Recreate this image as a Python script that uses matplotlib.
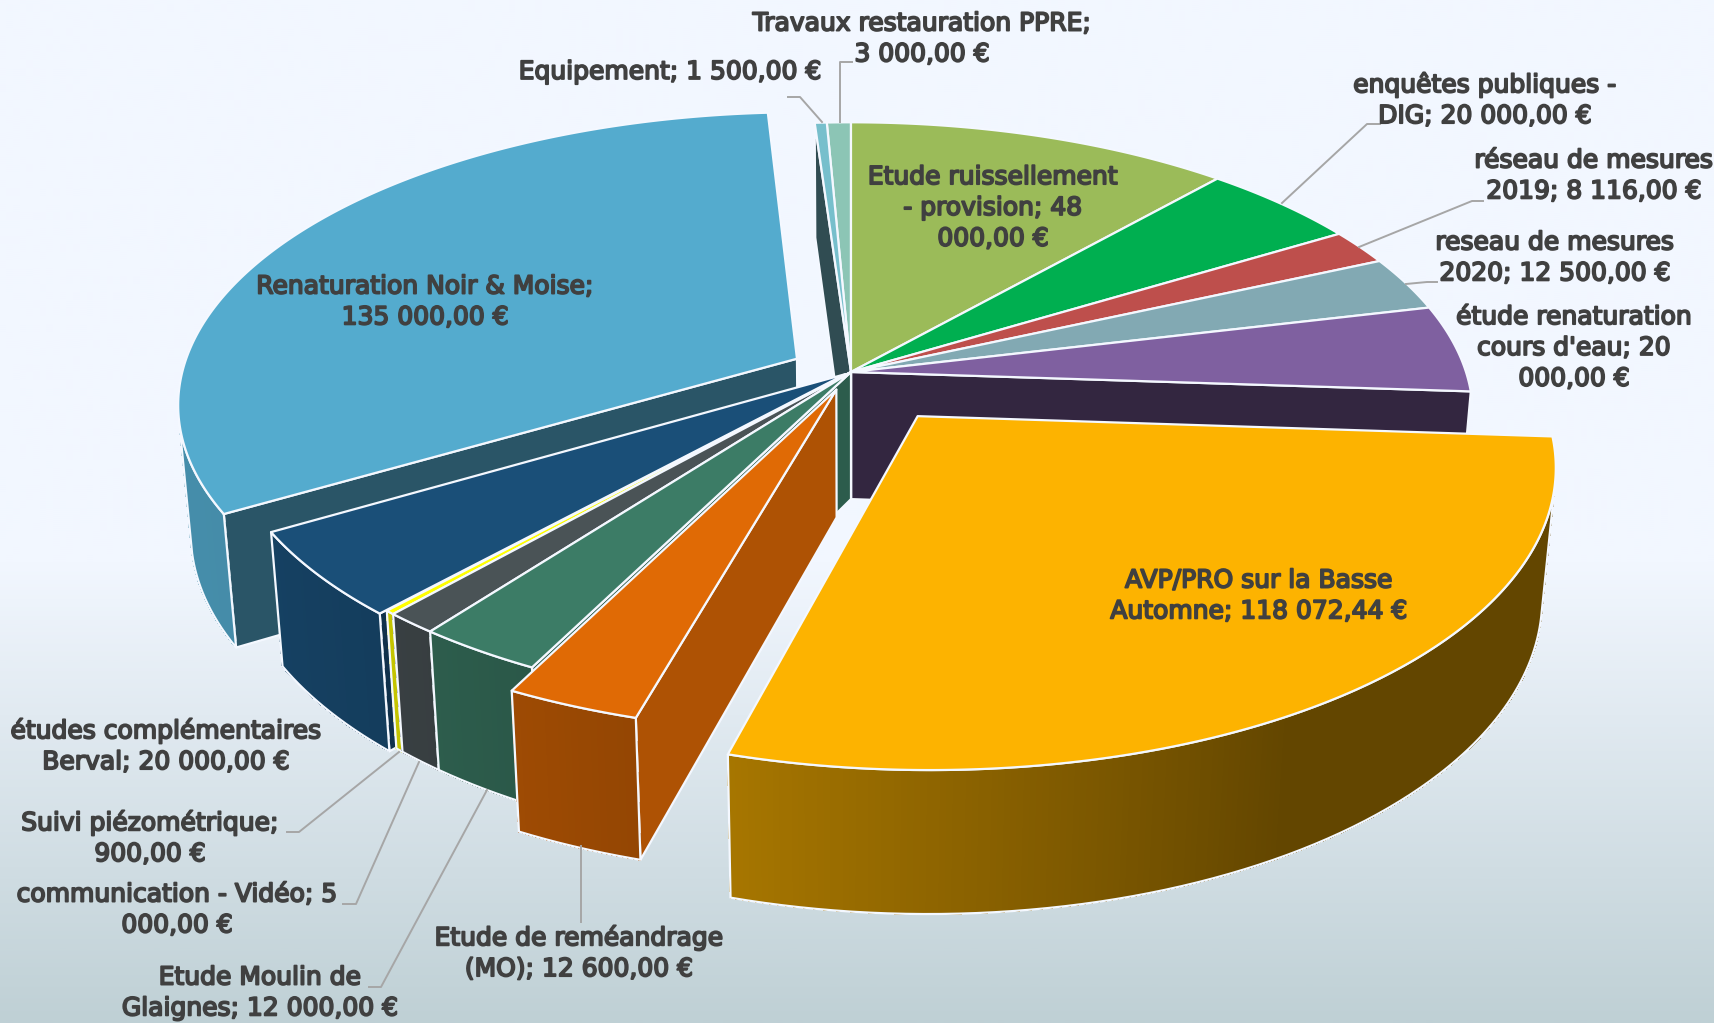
"""3D exploded pie of the study budget, drawn by projecting each slice by hand."""

import numpy as np
import matplotlib
matplotlib.use('Agg')
import matplotlib.pyplot as plt
import matplotlib.patheffects as pe
from matplotlib.colors import to_rgb, LinearSegmentedColormap

# ── Data (clockwise from 12 o'clock) ───────────────────────────────────────
VALUES = [48000, 20000, 8116, 12500, 20000, 118072.44, 12600,
          12000, 5000, 900, 20000, 135000, 1500, 3000]
EXPLODE = [0, 0, 0, 0, 0, 0.184, 0.065, 0, 0, 0, 0.012, 0.10, 0, 0]
COLORS = ['#9BBB59', '#00AF50', '#BE4F4C', '#82A9B3', '#7F60A0', '#FDB300', '#E06A05',
          '#3C7C66', '#4A5356', '#FFFF00', '#1A4F78', '#54ABCE', '#77BFCC', '#8CC5B5']
LABELS = [
    'Etude ruissellement\n- provision; 48\n000,00 €',
    'enquêtes publiques -\nDIG; 20 000,00 €',
    'réseau de mesures\n2019; 8 116,00 €',
    'reseau de mesures\n2020; 12 500,00 €',
    "étude renaturation\ncours d'eau; 20\n000,00 €",
    'AVP/PRO sur la Basse\nAutomne; 118 072,44 €',
    'Etude de reméandrage\n(MO); 12 600,00 €',
    'Etude Moulin de\nGlaignes; 12 000,00 €',
    'communication - Vidéo; 5\n000,00 €',
    'Suivi piézométrique;\n900,00 €',
    'études complémentaires\nBerval; 20 000,00 €',
    'Renaturation Noir & Moise;\n135 000,00 €',
    'Equipement; 1 500,00 €',
    'Travaux restauration PPRE;\n3 000,00 €',
]
LABEL_POS = [(993, 208), (1485, 100), (1594, 176), (1555, 258), (1574, 348), (1259, 596), (579, 953),
             (260, 993), (177, 910), (150, 838), (166, 746), (425, 302), (670, 72), (922, 39)]

# ── Leader lines, in pixels ────────────────────────────────────────────────
LEADERS = [
    [(852, 62), (840, 62), (840, 122)],
    [(788, 97), (800, 97), (822, 122)],
    [(1282, 203), (1367, 124), (1380, 124)],
    [(1359, 247), (1472, 201), (1483, 201)],
    [(1406, 284), (1427, 282), (1437, 282)],
    [(399, 752), (299, 832), (287, 832)],
    [(419, 762), (356, 904), (343, 904)],
    [(487, 790), (381, 987), (369, 987)],
    [(581, 846), (581, 922)],
]

# ── Camera ─────────────────────────────────────────────────────────────────
CX, CY = 851, 372
SCALE = 615
ELEV = np.radians(27.8)
DIST = 5.95
HEIGHT = 0.238
CAM = np.array([0, -DIST * np.cos(ELEV), DIST * np.sin(ELEV)])

WHITE = '#F4F8FF'
TEXT_COLOR = '#404040'
LEADER_COLOR = '#A6A6A6'
FONT = 'DejaVu Sans'


def project(x, y, z):
    w = y * np.cos(ELEV) - z * np.sin(ELEV)
    v = y * np.sin(ELEV) + z * np.cos(ELEV)
    fac = DIST / (DIST + w)
    return CX + SCALE * x * fac, CY - SCALE * v * fac


def shade(color, factor):
    return tuple(c * factor for c in to_rgb(color))


def wall_factor(theta):
    # outer wall darkens towards the lower right, as in the office renderer
    return np.interp(theta, [0, 150, 196, 210, 225, 240, 300, 360],
                     [0.39, 0.39, 0.66, 0.72, 0.78, 0.82, 0.85, 0.85])


def cut_factor(normal):
    return np.interp(normal, [105, 117, 149, 184, 266],
                     [0.78, 0.74, 0.50, 0.40, 0.40])


def faces_camera(point, normal):
    return np.dot(CAM - np.array(point), normal) > 0


fig = plt.figure(figsize=(17.15, 10.23), dpi=100)
ax = fig.add_axes([0, 0, 1, 1])
ax.set_xlim(0, 1715)
ax.set_ylim(1023, 0)
ax.axis('off')

# background gradient
bg = LinearSegmentedColormap.from_list(
    'bg', [(0, '#F2F7FF'), (0.55, '#F2F7FF'), (1, '#BFD0D5')])
ax.imshow(np.linspace(0, 1, 512)[:, None], cmap=bg, vmin=0, vmax=1,
          extent=(0, 1715, 1023, 0), aspect='auto', zorder=0)

values = np.array(VALUES, dtype=float)
edges = np.concatenate([[0], np.cumsum(values)]) / values.sum() * 360
mids = (edges[:-1] + edges[1:]) / 2

z_now = 1


def poly(xs, ys, face, edge=WHITE, lw=1.6, aa=True):
    global z_now
    ax.fill(xs, ys, facecolor=face, edgecolor=edge, linewidth=lw,
            joinstyle='round', antialiased=aa, zorder=z_now)
    z_now += 1


def draw_cut(theta, normal_deg, ox, oy, color):
    t = np.radians(theta)
    n = np.radians(normal_deg)
    normal = np.array([np.sin(n), np.cos(n), 0])
    rim = (ox + np.sin(t), oy + np.cos(t), 0)
    if not faces_camera(((ox + rim[0]) / 2, (oy + rim[1]) / 2, 0), normal):
        return
    pts = [(ox, oy, 0), rim, (rim[0], rim[1], -HEIGHT), (ox, oy, -HEIGHT)]
    xs, ys = zip(*[project(*p) for p in pts])
    poly(xs, ys, shade(color, cut_factor(normal_deg % 360)))


def draw_wall(t0, t1, ox, oy, color):
    global z_now
    thetas = np.linspace(t0, t1, max(int(t1 - t0) * 2, 4))
    vis = []
    for a, b in zip(thetas[:-1], thetas[1:]):
        m = np.radians((a + b) / 2)
        n = np.array([np.sin(m), np.cos(m), 0])
        p = (ox + n[0], oy + n[1], 0)
        if faces_camera(p, n):
            vis.append((a, b))
    if not vis:
        return
    for a, b in vis:
        ra, rb = np.radians(a), np.radians(b)
        pts = [(ox + np.sin(ra), oy + np.cos(ra), 0), (ox + np.sin(rb), oy + np.cos(rb), 0),
               (ox + np.sin(rb), oy + np.cos(rb), -HEIGHT), (ox + np.sin(ra), oy + np.cos(ra), -HEIGHT)]
        xs, ys = zip(*[project(*p) for p in pts])
        f = shade(color, wall_factor((a + b) / 2))
        poly(xs, ys, f, edge=f, lw=0.6, aa=False)
    # white outline round the visible run
    arc = np.radians(np.linspace(vis[0][0], vis[-1][1], 200))
    tx, ty = project(ox + np.sin(arc), oy + np.cos(arc), 0 * arc)
    bx, by = project(ox + np.sin(arc), oy + np.cos(arc), -HEIGHT + 0 * arc)
    ax.plot(np.r_[tx, bx[::-1], tx[0]], np.r_[ty, by[::-1], ty[0]], color=WHITE, lw=1.6, zorder=z_now)
    z_now += 1


def draw_top(t0, t1, ox, oy, color):
    arc = np.radians(np.linspace(t0, t1, max(int(t1 - t0) * 2, 4)))
    xs, ys = project(ox + np.sin(arc), oy + np.cos(arc), 0 * arc)
    ax_, ay_ = project(ox, oy, 0)
    poly(np.r_[ax_, xs], np.r_[ay_, ys], color)


# back to front
order = np.argsort(-np.cos(np.radians(mids)))
for i in order:
    t0, t1 = edges[i], edges[i + 1]
    m = np.radians(mids[i])
    ox, oy = EXPLODE[i] * np.sin(m), EXPLODE[i] * np.cos(m)
    draw_cut(t0, t0 - 90, ox, oy, COLORS[i])
    draw_cut(t1, t1 + 90, ox, oy, COLORS[i])
    draw_wall(t0, t1, ox, oy, COLORS[i])
    draw_top(t0, t1, ox, oy, COLORS[i])

for pts in LEADERS:
    xs, ys = zip(*pts)
    ax.plot(xs, ys, color=LEADER_COLOR, lw=1.4, zorder=z_now)

embolden = [pe.withStroke(linewidth=1.3, foreground=TEXT_COLOR)]
for label, (x, y) in zip(LABELS, LABEL_POS):
    ax.text(x, y, label, ha='center', va='center', family=FONT,
            fontsize=18, color=TEXT_COLOR, linespacing=1.36, zorder=z_now + 1,
            path_effects=embolden)

fig.savefig('out.png', dpi=100)
